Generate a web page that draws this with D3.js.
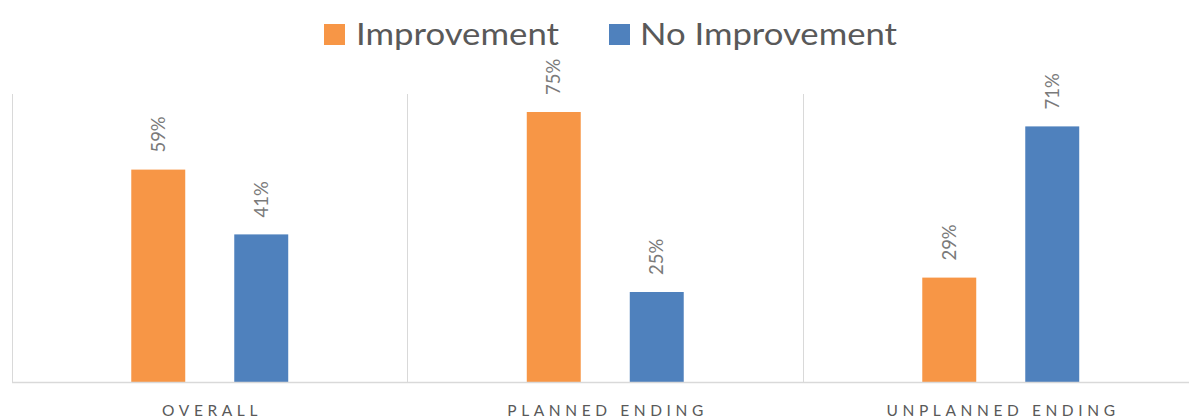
<!DOCTYPE html>
<html>
<head>
<meta charset="utf-8">
<script src="https://cdn.jsdelivr.net/npm/d3@7"></script>
<style>
  html, body { margin: 0; padding: 0; background: #fff; }
  svg { display: block; }
</style>
</head>
<body>
<svg id="chart" width="1189" height="419"></svg>
<script>
// Outcome shares per group
const categories = ["OVERALL", "PLANNED ENDING", "UNPLANNED ENDING"];
const seriesNames = ["Improvement", "No Improvement"];
const improvement = [0.59, 0.75, 0.29];
const noImprovement = [0.41, 0.25, 0.71];
const seriesColors = ["#F79646", "#4F81BD"];

const svg = d3.select("#chart");
const font = "Lato, 'Open Sans', sans-serif";

const plot = { left: 12, right: 1198.5, top: 94, bottom: 382 };

const x = d3.scaleBand()
  .domain(categories)
  .range([plot.left, plot.right])
  .padding(0);

const xInner = d3.scaleBand()
  .domain(seriesNames)
  .range([0, x.bandwidth()])
  .paddingInner(0.476)
  .paddingOuter(1.158);

const y = d3.scaleLinear()
  .domain([0, 0.8])
  .range([plot.bottom, plot.top]);

const color = d3.scaleOrdinal().domain(seriesNames).range(seriesColors);

const rows = categories.map((c, i) => ({
  category: c,
  values: [
    { series: seriesNames[0], value: improvement[i] },
    { series: seriesNames[1], value: noImprovement[i] }
  ]
}));

// Category separators
svg.append("g")
  .selectAll("line")
  .data(categories.concat(["_end"]))
  .join("line")
  .attr("x1", (d, i) => i < categories.length ? x(d) : plot.right)
  .attr("x2", (d, i) => i < categories.length ? x(d) : plot.right)
  .attr("y1", y(0.8))
  .attr("y2", y(0))
  .attr("stroke", "#d9d9d9")
  .attr("stroke-width", 1)
  .attr("shape-rendering", "crispEdges");

// Bars
const groups = svg.append("g")
  .selectAll("g")
  .data(rows)
  .join("g")
  .attr("transform", d => `translate(${x(d.category)},0)`);

groups.selectAll("rect")
  .data(d => d.values)
  .join("rect")
  .attr("x", d => xInner(d.series))
  .attr("y", d => y(d.value))
  .attr("width", xInner.bandwidth())
  .attr("height", d => y(0) - y(d.value))
  .attr("fill", d => color(d.series));

// Rotated value labels
groups.selectAll("text")
  .data(d => d.values)
  .join("text")
  .attr("transform", d => `translate(${xInner(d.series) + xInner.bandwidth() / 2},${y(d.value) - 17}) rotate(-90)`)
  .attr("dy", "0.35em")
  .attr("text-anchor", "start")
  .attr("font-family", font)
  .attr("font-size", 18.5)
  .attr("fill", "#7a7a7a")
  .text(d => d3.format(".0%")(d.value));

// Baseline
svg.append("line")
  .attr("x1", plot.left)
  .attr("x2", plot.right)
  .attr("y1", y(0) + 0.5)
  .attr("y2", y(0) + 0.5)
  .attr("stroke", "#d9d9d9")
  .attr("stroke-width", 1.5);

// Category axis labels (wide tracking)
const tracking = 4.6;
svg.append("g")
  .selectAll("text")
  .data(categories)
  .join("text")
  .attr("x", d => x(d) + x.bandwidth() / 2 + tracking / 2)
  .attr("y", 415.5)
  .attr("text-anchor", "middle")
  .attr("font-family", font)
  .attr("font-size", 15.5)
  .attr("letter-spacing", tracking + "px")
  .attr("fill", "#595959")
  .text(d => d);

// Legend
const legendItems = [
  { name: seriesNames[0], sx: 324, tx: 356, w: 203 },
  { name: seriesNames[1], sx: 609, tx: 640, w: 257 }
];
const legend = svg.append("g");
legend.selectAll("rect")
  .data(legendItems)
  .join("rect")
  .attr("x", d => d.sx)
  .attr("y", 24)
  .attr("width", 21)
  .attr("height", 21)
  .attr("fill", d => color(d.name));
legend.selectAll("text")
  .data(legendItems)
  .join("text")
  .attr("x", d => d.tx)
  .attr("y", 44.5)
  .attr("font-family", font)
  .attr("font-size", 31)
  .attr("textLength", d => d.w)
  .attr("lengthAdjust", "spacingAndGlyphs")
  .attr("fill", "#595959")
  .text(d => d.name);
</script>
</body>
</html>
